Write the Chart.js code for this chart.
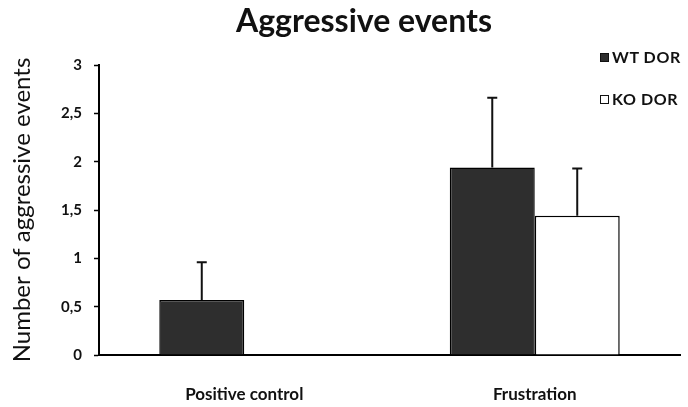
<!DOCTYPE html>
<html>
<head>
<meta charset="utf-8">
<script src="https://cdn.jsdelivr.net/npm/chart.js@4.4.1/dist/chart.umd.min.js"></script>
<style>
  html, body { margin: 0; padding: 0; background: #fff; }
  #wrap { position: relative; width: 688px; height: 407px; }
  #title { position: absolute; left: 0; width: 728px; top: 0px; text-align: center; font: bold 32px Lato, sans-serif; color: #111; }
  #legend { position: absolute; left: 600px; top: 47px; font: bold 16px Lato, sans-serif; color: #111; letter-spacing: 0.6px; }
  #legend div { height: 20px; line-height: 20px; margin-bottom: 22px; white-space: nowrap; }
  #legend span { display: inline-block; width: 7px; height: 7px; border: 1px solid #111; margin-right: 3px; vertical-align: 1px; }
</style>
</head>
<body>
<div id="wrap">
  <canvas id="chart" width="688" height="407"></canvas>
  <div id="title">Aggressive events</div>
  <div id="legend"></div>
</div>
<script>
// valores
const categories = ['Positive control', 'Frustration'];
const seriesNames = ['WT DOR', 'KO DOR'];
const wtValues = [0.57, 1.94];
const koValues = [null, 1.44];
const wtErrors = [0.39, 0.72];
const koErrors = [null, 0.49];
const yTicks = [0, 0.5, 1, 1.5, 2, 2.5, 3];

const fillColors = ['#2e2e2e', '#ffffff'];

// legenda em HTML no canto superior direito
const legendEl = document.getElementById('legend');
seriesNames.forEach((name, i) => {
    const row = document.createElement('div');
    const box = document.createElement('span');
    box.style.background = fillColors[i];
    row.appendChild(box);
    row.appendChild(document.createTextNode(name));
    legendEl.appendChild(row);
});

// barras de erro só para cima, com traço horizontal no topo
const errorBars = {
    id: 'errorBars',
    afterDatasetsDraw(chart) {
        const ctx = chart.ctx;
        const yScale = chart.scales.y;
        const errs = [wtErrors, koErrors];
        ctx.save();
        ctx.strokeStyle = '#111';
        ctx.lineWidth = 2;
        chart.data.datasets.forEach((ds, di) => {
            const meta = chart.getDatasetMeta(di);
            meta.data.forEach((bar, i) => {
                const v = ds.data[i];
                const e = errs[di][i];
                if (v == null || e == null) return;
                const yTop = yScale.getPixelForValue(v + e);
                ctx.beginPath();
                ctx.moveTo(bar.x, bar.y);
                ctx.lineTo(bar.x, yTop);
                ctx.moveTo(bar.x - 5, yTop);
                ctx.lineTo(bar.x + 5, yTop);
                ctx.stroke();
            });
        });
        ctx.restore();
    }
};

new Chart(document.getElementById('chart'), {
    type: 'bar',
    data: {
        labels: categories,
        datasets: [
            {
                label: seriesNames[0],
                data: wtValues,
                backgroundColor: fillColors[0],
                borderColor: '#000',
                borderWidth: 1.5,
                categoryPercentage: 0.585,
                barPercentage: 1
            },
            {
                label: seriesNames[1],
                data: koValues,
                backgroundColor: fillColors[1],
                borderColor: '#000',
                borderWidth: 1.5,
                categoryPercentage: 0.585,
                barPercentage: 1
            }
        ]
    },
    options: {
        responsive: false,
        animation: false,
        layout: { padding: { left: 0, right: 8, top: 65, bottom: 6 } },
        plugins: {
            legend: { display: false },
            tooltip: { enabled: false },
            title: { display: false }
        },
        scales: {
            x: {
                afterFit: (scale) => { scale.height = 46; },
                grid: { display: false, drawTicks: false },
                border: { display: true, color: '#000', width: 2 },
                ticks: {
                    color: '#111',
                    padding: 29,
                    maxRotation: 0,
                    font: { family: 'Lato', size: 17, weight: 'bold' }
                }
            },
            y: {
                min: 0,
                max: 3,
                afterBuildTicks: (scale) => { scale.ticks = yTicks.map(v => ({ value: v })); },
                afterFit: (scale) => { scale.width = 99; },
                grid: { drawOnChartArea: false, drawTicks: true, tickLength: 5, color: '#000', tickWidth: 1.5 },
                border: { display: true, color: '#000', width: 2 },
                ticks: {
                    color: '#111',
                    padding: 12,
                    font: { family: 'Lato', size: 15, weight: 'bold' },
                    callback: (v) => String(v).replace('.', ',')
                },
                title: {
                    display: true,
                    text: 'Number of aggressive events',
                    color: '#111',
                    font: { family: 'Lato', size: 24 },
                    padding: { top: 8, bottom: 0 }
                }
            }
        }
    },
    plugins: [errorBars]
});
</script>
</body>
</html>
